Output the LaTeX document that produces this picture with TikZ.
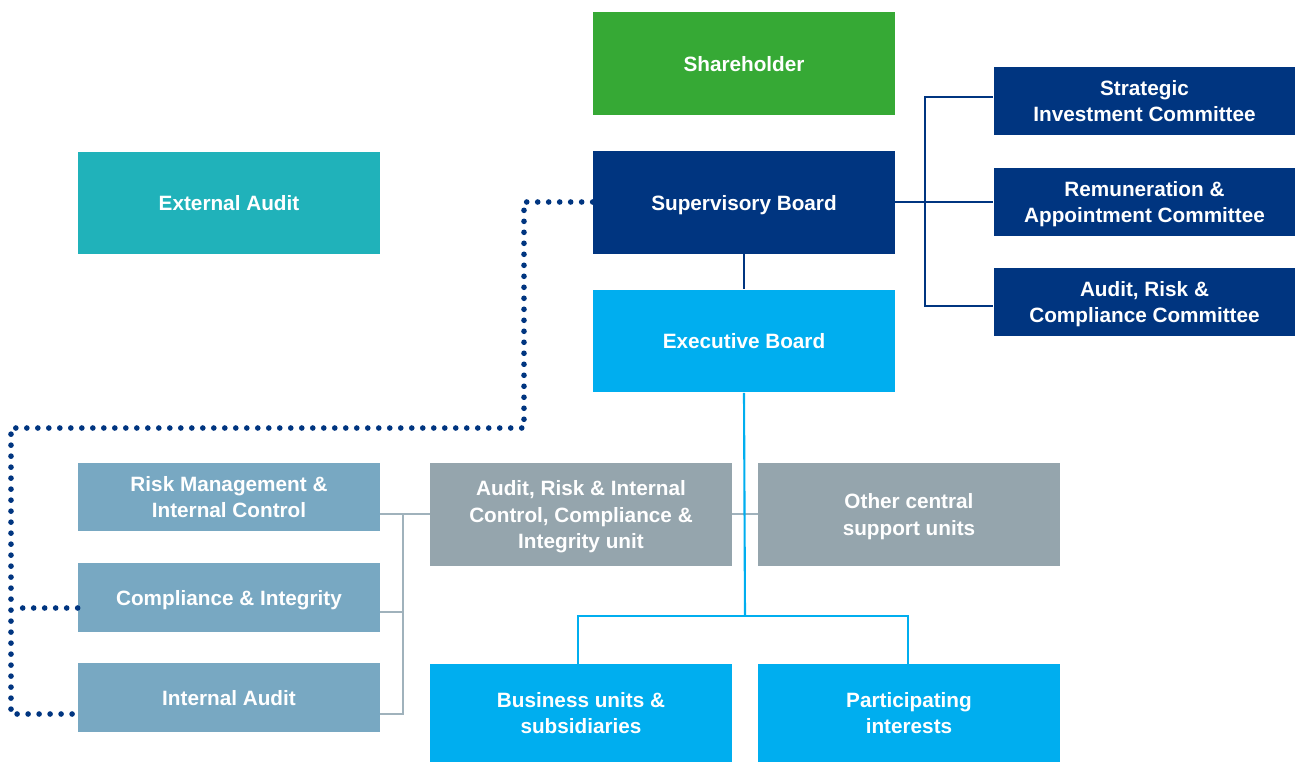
\documentclass[tikz,border=0pt]{standalone}
\usepackage{fontspec}
\setmainfont{Liberation Sans}
\usetikzlibrary{calc}

\definecolor{shgreen}{RGB}{54,169,53}
\definecolor{darkblue}{RGB}{0,53,128}
\definecolor{lightblue}{RGB}{0,174,239}
\definecolor{teal}{RGB}{32,178,186}
\definecolor{steel}{RGB}{120,168,194}
\definecolor{unitgray}{RGB}{149,165,173}
\definecolor{linegray}{RGB}{160,178,188}

\tikzset{
    box/.style={minimum width=6.04cm, align=center, text=white,
        font=\fontsize{11.8}{15.3}\selectfont\bfseries, inner sep=0pt, text depth=0pt},
    tall/.style={box, minimum height=2.06cm},
    flat/.style={box, minimum height=1.37cm},
}

\begin{document}
\begin{tikzpicture}[x=0.02cm, y=-0.02cm]
    \useasboundingbox (0,0) rectangle (1296,762);
    % Definitions
    \coordinate (Cjoin)  at (925,202);
    \coordinate (Ctop)   at (925,97);
    \coordinate (Cbot)   at (925,306);
    \coordinate (Bsplit) at (745,616);
    \coordinate (Bleft)  at (578,616);
    \coordinate (Bright) at (908,616);
    \coordinate (Gtop)   at (403,514);
    \coordinate (Gmid)   at (403,612);
    \coordinate (Gbot)   at (403,714);
    \coordinate (Dup)    at (524,202);
    \coordinate (Dturn)  at (524,428);
    \coordinate (Dcorner) at (11,428);
    \coordinate (Dmid)   at (11,608);
    \coordinate (Dbot)   at (11,714);
    % Boxes
    \node[tall, fill=shgreen]   (share)    at (744,63.5)  {Shareholder};
    \node[tall, fill=darkblue]  (superv)   at (744,202.5) {Supervisory Board};
    \node[tall, fill=lightblue] (exec)     at (744,341)   {Executive Board};
    \node[tall, fill=teal]      (extaudit) at (229,203)   {External Audit};
    \node[flat, fill=darkblue]  (strat)    at (1144.5,101) {Strategic\\Investment Committee};
    \node[flat, fill=darkblue]  (remun)    at (1144.5,202) {Remuneration \&\\Appointment Committee};
    \node[flat, fill=darkblue]  (arcc)     at (1144.5,302) {Audit, Risk \&\\Compliance Committee};
    \node[flat, fill=steel]     (riskmgmt) at (229,497)   {Risk Management \&\\Internal Control};
    \node[flat, fill=steel]     (compl)    at (229,597.5) {Compliance \& Integrity};
    \node[flat, fill=steel]     (intaudit) at (229,697.5) {Internal Audit};
    \node[tall, fill=unitgray]  (arunit)   at (581,514.5) {Audit, Risk \& Internal\\Control, Compliance \&\\Integrity unit};
    \node[tall, fill=unitgray]  (other)    at (909,514.5) {Other central\\support units};
    \node[box, minimum height=1.96cm, fill=lightblue] (business) at (581,713) {Business units \&\\subsidiaries};
    \node[box, minimum height=1.96cm, fill=lightblue] (particip) at (909,713) {Participating\\interests};
    % Committee lines
    \draw[darkblue, line width=1.6pt] (superv.east |- Cjoin) -- (Cjoin);
    \draw[darkblue, line width=1.6pt] (strat.west |- Ctop) -- (Ctop) -- (Cbot) -- (arcc.west |- Cbot);
    \draw[darkblue, line width=1.6pt] (Cjoin) -- (remun.west |- Cjoin);
    \draw[darkblue, line width=1.6pt] (superv.south) -- (exec.north);
    % Gray lines
    \draw[linegray, line width=1.2pt] (arunit.west |- Gtop) -- (riskmgmt.east |- Gtop);
    \draw[linegray, line width=1.2pt] (Gtop) -- (Gbot) -- (intaudit.east |- Gbot);
    \draw[linegray, line width=1.2pt] (Gmid) -- (compl.east |- Gmid);
    \draw[linegray, line width=1.2pt] (arunit.east |- Gtop) -- (other.west |- Gtop);
    % Executive lines
    \draw[lightblue, line width=1.2pt] (exec.south) -- (Bsplit);
    \draw[lightblue, line width=1.2pt] (business.north -| Bleft) -- (Bleft) -- (Bright) -- (particip.north -| Bright);
    % Dotted reporting line
    \draw[darkblue, line width=3.2pt, line cap=round, dash pattern=on 0pt off 0.22cm]
        (superv.west |- Dup) -- (Dup) -- (Dturn) -- (Dcorner) -- (Dbot) -- (intaudit.west |- Dbot);
    \draw[darkblue, line width=3.2pt, line cap=round, dash pattern=on 0pt off 0.22cm]
        (compl.west |- Dmid) -- ([xshift=0.22cm]Dmid);
\end{tikzpicture}
\end{document}
